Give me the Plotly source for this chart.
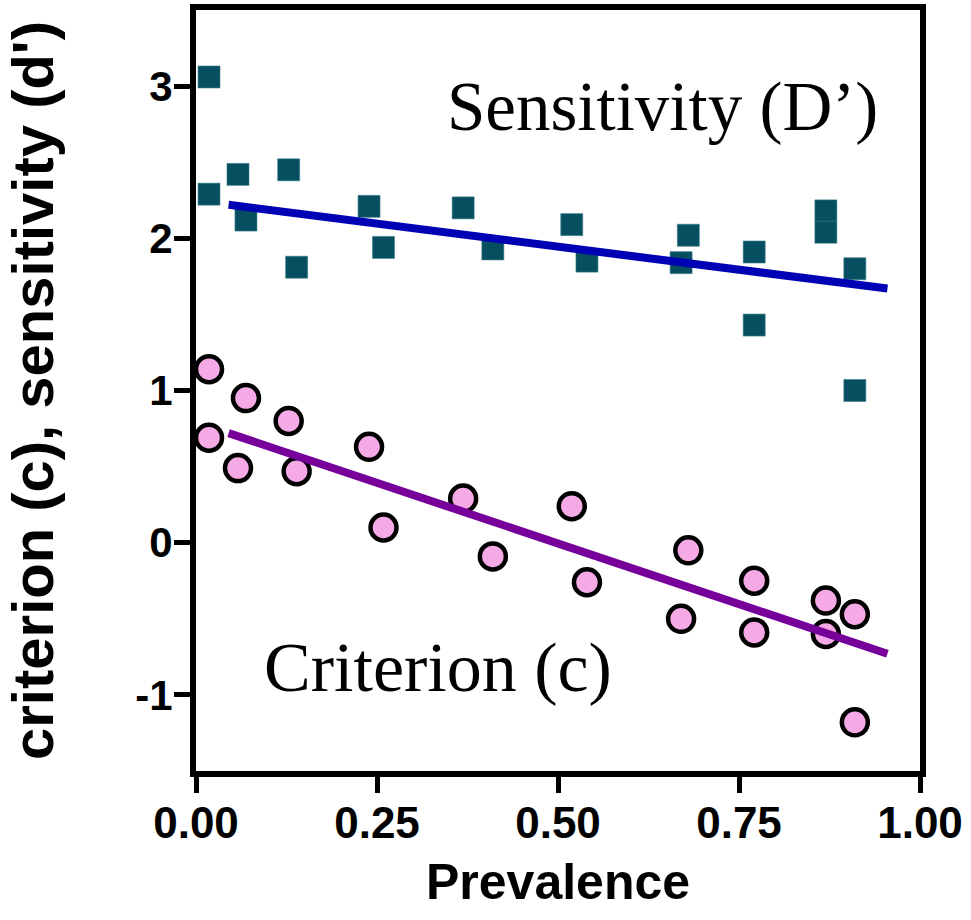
import plotly.graph_objects as go

# Prevalence values and measures
sens_x = [0.018, 0.018, 0.058, 0.069, 0.128, 0.139, 0.239, 0.259, 0.369, 0.41,
          0.519, 0.54, 0.68, 0.67, 0.771, 0.771, 0.87, 0.87, 0.91, 0.91]
sens_y = [3.06, 2.29, 2.42, 2.12, 2.45, 1.81, 2.21, 1.94, 2.20, 1.93,
          2.09, 1.85, 2.02, 1.84, 1.91, 1.43, 2.18, 2.04, 1.80, 1.00]

crit_x = [0.018, 0.018, 0.058, 0.069, 0.128, 0.139, 0.239, 0.259, 0.369, 0.41,
          0.519, 0.54, 0.68, 0.67, 0.771, 0.771, 0.87, 0.87, 0.91, 0.91]
crit_y = [1.14, 0.69, 0.49, 0.95, 0.80, 0.47, 0.63, 0.10, 0.29, -0.09,
          0.24, -0.26, -0.05, -0.50, -0.25, -0.59, -0.38, -0.60, -0.47, -1.18]

# Fitted line endpoints
fit_x = [0.045, 0.955]
sens_fit_y = [2.22, 1.67]
crit_fit_y = [0.72, -0.73]

x_ticks = [0, 0.25, 0.5, 0.75, 1.0]
x_tick_text = ["0.00", "0.25", "0.50", "0.75", "1.00"]
y_ticks = [-1, 0, 1, 2, 3]
y_tick_text = ["-1", "0", "1", "2", "3"]

fig = go.Figure()
fig.add_trace(go.Scatter(
    x=sens_x, y=sens_y, mode="markers",
    marker=dict(symbol="square", size=22, color="#064F61",
                line=dict(width=0.6, color="#3C7D8C")),
    showlegend=False, cliponaxis=False))
fig.add_trace(go.Scatter(
    x=crit_x, y=crit_y, mode="markers",
    marker=dict(symbol="circle", size=26, color="#F5AAE6",
                line=dict(width=4.5, color="black")),
    showlegend=False, cliponaxis=False))
fig.add_trace(go.Scatter(
    x=fit_x, y=sens_fit_y, mode="lines",
    line=dict(color="#0000B4", width=8), showlegend=False))
fig.add_trace(go.Scatter(
    x=fit_x, y=crit_fit_y, mode="lines",
    line=dict(color="#77009A", width=8), showlegend=False))

serif = "Liberation Serif, Times New Roman, serif"
fig.add_annotation(x=0.644, y=2.86, xref="x", yref="y", text="Sensitivity (D\u2019)",
                   showarrow=False, font=dict(family=serif, size=69, color="black"),
                   xanchor="center", yanchor="middle")
fig.add_annotation(x=0.334, y=-0.82, xref="x", yref="y", text="Criterion (c)",
                   showarrow=False, font=dict(family=serif, size=70, color="black"),
                   xanchor="center", yanchor="middle")

sans = "Arial, Liberation Sans, Helvetica, sans-serif"
fig.update_xaxes(
    range=[0, 1], tickvals=x_ticks, ticktext=x_tick_text,
    showgrid=False, zeroline=False,
    showline=True, linewidth=6, linecolor="black", mirror=True,
    ticks="outside", ticklen=16, tickwidth=5, tickcolor="black",
    ticklabelstandoff=-8,
    tickfont=dict(family=sans, size=44, color="black", weight="bold"),
    title=dict(text="Prevalence", standoff=20,
               font=dict(family=sans, size=50, color="black", weight="bold")),
    automargin=False)
fig.update_yaxes(
    range=[-1.5, 3.5], tickvals=y_ticks, ticktext=y_tick_text,
    showgrid=False, zeroline=False,
    showline=True, linewidth=6, linecolor="black", mirror=True,
    ticks="outside", ticklen=16, tickwidth=5, tickcolor="black",
    ticklabelstandoff=-7,
    tickfont=dict(family=sans, size=42, color="black", weight="bold"),
    title=dict(text="criterion (c), sensitivity (d')", standoff=76,
               font=dict(family=sans, size=58, color="black", weight="bold")),
    automargin=False)

fig.update_layout(
    width=971, height=920,
    margin=dict(l=196, r=51, t=10, b=149),
    paper_bgcolor="white", plot_bgcolor="white")

fig.write_html("out.html")
